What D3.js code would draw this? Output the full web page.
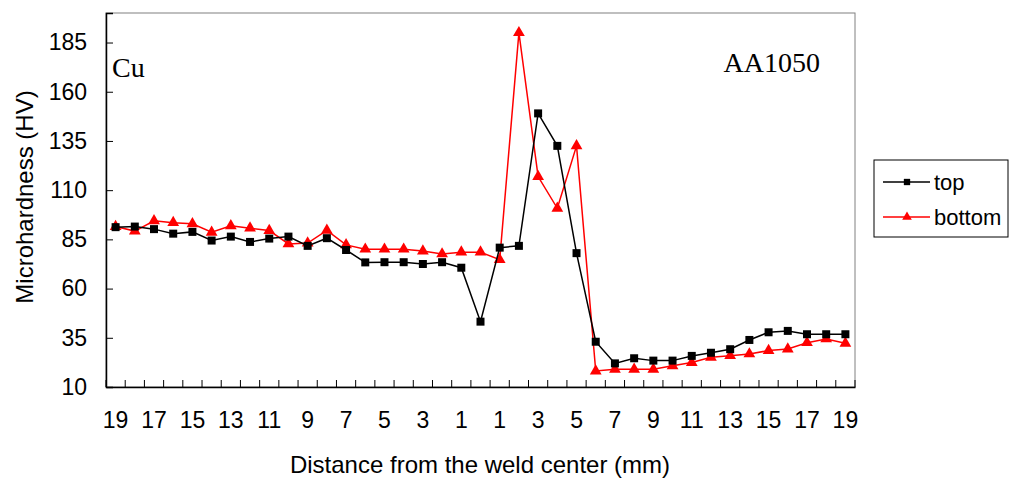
<!DOCTYPE html>
<html>
<head>
<meta charset="utf-8">
<script src="https://cdn.jsdelivr.net/npm/d3@7"></script>
<style>
  body { margin: 0; background: #fff; }
  svg { font-family: "Liberation Sans", Arial, sans-serif; }
</style>
</head>
<body>
<svg id="chart" width="1015" height="480"></svg>
<script>
// distance labels, left side 19..1, centre (0, unlabeled), right side 1..19
let distances = [19,18,17,16,15,14,13,12,11,10,9,8,7,6,5,4,3,2,1,0,1,2,3,4,5,6,7,8,9,10,11,12,13,14,15,16,17,18,19];
let topValues = [91.2,91.5,90.2,87.9,88.8,84.4,86.4,83.7,85.4,86.4,81.7,85.6,79.6,73.3,73.4,73.4,72.5,73.4,70.6,43.2,
                 80.8,81.7,149,132.5,78,33,22,24.6,23.4,23.4,25.8,27.4,29.2,33.9,37.8,38.5,36.8,36.8,36.8];
let bottomValues = [91.5,89.2,94.4,93.5,92.9,88.6,91.9,90.7,89.5,82.7,83.1,89.6,82.2,80,80,80,79.1,77.6,78.5,78.5,
                    74.7,190,116.9,100.8,132.5,18.1,19,19,19,20.8,22.4,25.1,25.9,26.8,28.5,29.3,32.5,34.4,32.2];
let yTicks = [10,35,60,85,110,135,160,185];

let svg = d3.select('#chart');
let margin = {left: 106, right: 160, top: 13, bottom: 93};
let width = 1015, height = 480;

let idx = d3.range(distances.length);
let x = d3.scaleBand()
    .domain(idx)
    .range([margin.left, width - margin.right])
    .padding(0);
let y = d3.scaleLinear()
    .domain([10, 200])
    .range([height - margin.bottom, margin.top]);

// plot frame
svg.append('rect')
    .attr('x', margin.left)
    .attr('y', margin.top)
    .attr('width', width - margin.right - margin.left)
    .attr('height', height - margin.bottom - margin.top)
    .attr('fill', 'none')
    .attr('stroke', '#808080')
    .attr('stroke-width', 1);

// y axis, ticks inside
let yAxis = d3.axisLeft(y).tickValues(yTicks).tickSize(-7).tickPadding(19);
let gy = svg.append('g')
    .attr('transform', 'translate(' + margin.left + ',0)')
    .call(yAxis);
gy.select('.domain').attr('stroke', '#000').attr('stroke-width', 1.5);
gy.selectAll('.tick line').attr('stroke', '#000');
gy.selectAll('text').attr('font-size', 23).attr('fill', '#000');

// x axis: ticks between categories, labels every other
let xAxis = d3.axisBottom(x)
    .tickFormat(function(d){ return d % 2 === 0 ? distances[d] : ''; })
    .tickSize(0)
    .tickPadding(25);
let gx = svg.append('g')
    .attr('transform', 'translate(0,' + (height - margin.bottom) + ')')
    .call(xAxis);
gx.select('.domain').attr('stroke', '#000').attr('stroke-width', 1.5);
gx.selectAll('text').attr('font-size', 23).attr('fill', '#000');

svg.append('g').selectAll('line')
    .data(d3.range(distances.length + 1))
    .enter()
    .append('line')
    .attr('x1', function(d){ return margin.left + d * x.step(); })
    .attr('x2', function(d){ return margin.left + d * x.step(); })
    .attr('y1', height - margin.bottom)
    .attr('y2', height - margin.bottom - 7)
    .attr('stroke', '#000');

// axis titles
svg.append('text')
    .attr('transform', 'translate(33,197) rotate(-90)')
    .attr('text-anchor', 'middle')
    .attr('font-size', 24)
    .text('Microhardness (HV)');
svg.append('text')
    .attr('x', 480)
    .attr('y', 473)
    .attr('text-anchor', 'middle')
    .attr('font-size', 24)
    .text('Distance from the weld center (mm)');

// side annotations
svg.append('text')
    .attr('x', 112).attr('y', 77)
    .attr('font-family', '"Liberation Serif", "Times New Roman", serif')
    .attr('font-size', 28)
    .text('Cu');
svg.append('text')
    .attr('x', 820).attr('y', 72)
    .attr('text-anchor', 'end')
    .attr('font-family', '"Liberation Serif", "Times New Roman", serif')
    .attr('font-size', 28)
    .text('AA1050');

let cx = function(d, i){ return x(i) + x.bandwidth() / 2; };
let line = d3.line()
    .x(function(d, i){ return x(i) + x.bandwidth() / 2; })
    .y(function(d){ return y(d); });

let tri = d3.symbol().type(d3.symbolTriangle).size(60);
let sq = d3.symbol().type(d3.symbolSquare).size(64);

// bottom series (red triangles)
svg.append('path')
    .datum(bottomValues)
    .attr('d', line)
    .attr('fill', 'none')
    .attr('stroke', '#ff0000')
    .attr('stroke-width', 1.5);
svg.append('g').selectAll('path')
    .data(bottomValues)
    .enter()
    .append('path')
    .attr('d', tri)
    .attr('transform', function(d, i){ return 'translate(' + cx(d, i) + ',' + y(d) + ')'; })
    .attr('fill', '#ff0000');

// top series (black squares)
svg.append('path')
    .datum(topValues)
    .attr('d', line)
    .attr('fill', 'none')
    .attr('stroke', '#000')
    .attr('stroke-width', 1.5);
svg.append('g').selectAll('path')
    .data(topValues)
    .enter()
    .append('path')
    .attr('d', sq)
    .attr('transform', function(d, i){ return 'translate(' + cx(d, i) + ',' + y(d) + ')'; })
    .attr('fill', '#000');

// legend
let legend = svg.append('g').attr('transform', 'translate(874,160)');
legend.append('rect')
    .attr('width', 134).attr('height', 77)
    .attr('fill', '#fff')
    .attr('stroke', '#000')
    .attr('stroke-width', 1);
let items = [
    {name: 'top', color: '#000', sym: sq},
    {name: 'bottom', color: '#ff0000', sym: tri}
];
let li = legend.selectAll('g.item')
    .data(items)
    .enter()
    .append('g')
    .attr('class', 'item')
    .attr('transform', function(d, i){ return 'translate(0,' + (22 + i * 35) + ')'; });
li.append('line')
    .attr('x1', 9).attr('x2', 56)
    .attr('stroke', function(d){ return d.color; })
    .attr('stroke-width', 1.5);
li.append('path')
    .attr('d', function(d){ return d.sym.size(40)(); })
    .attr('transform', 'translate(33,0)')
    .attr('fill', function(d){ return d.color; });
li.append('text')
    .attr('x', 60).attr('y', 8)
    .attr('font-size', 22)
    .text(function(d){ return d.name; });
</script>
</body>
</html>
